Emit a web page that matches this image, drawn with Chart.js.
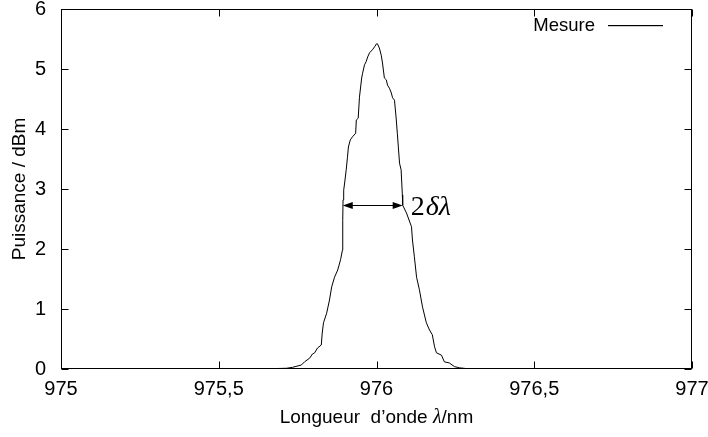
<!DOCTYPE html>
<html>
<head>
<meta charset="utf-8">
<script src="https://cdn.jsdelivr.net/npm/chart.js@4.4.1/dist/chart.umd.min.js"></script>
<style>
  html, body { margin: 0; padding: 0; background: #fff; }
  #wrap { width: 708px; height: 437px; }
</style>
</head>
<body>
<div id="wrap"><canvas id="c" width="708" height="437"></canvas></div>
<script>
// spectre mesuré (longueur d'onde en nm, puissance en dBm)
const WAVELENGTH = [
  975.000, 975.440, 975.598, 975.661, 975.715, 975.734, 975.762, 975.772,
  975.788, 975.797, 975.804, 975.813, 975.825, 975.828, 975.832, 975.842,
  975.851, 975.858, 975.867, 975.877, 975.886, 975.892, 975.893, 975.894,
  975.896, 975.899, 975.904, 975.908, 975.911, 975.917, 975.924, 975.934,
  975.936, 975.942, 975.946, 975.953, 975.956, 975.962, 975.967, 975.972,
  975.978, 975.987, 975.994, 976.000, 976.003, 976.009, 976.015, 976.019,
  976.025, 976.031, 976.035, 976.041, 976.047, 976.051, 976.057, 976.062,
  976.066, 976.073, 976.078, 976.082, 976.083, 976.095, 976.111, 976.114,
  976.120, 976.127, 976.136, 976.146, 976.158, 976.168, 976.177, 976.184,
  976.190, 976.206, 976.215, 976.231, 976.247, 976.263, 976.288, 976.332,
  976.706, 977.000,
];
const POWER = [
  0.000, 0.000, 0.002, 0.005, 0.012, 0.028, 0.067, 0.120,
  0.180, 0.250, 0.270, 0.350, 0.400, 0.600, 0.770, 0.930,
  1.150, 1.370, 1.530, 1.650, 1.820, 1.980, 2.480, 2.820,
  2.980, 3.100, 3.320, 3.530, 3.700, 3.820, 3.870, 3.930,
  4.150, 4.180, 4.530, 4.850, 4.930, 5.070, 5.120, 5.200,
  5.270, 5.320, 5.370, 5.420, 5.420, 5.350, 5.230, 5.100,
  4.850, 4.820, 4.730, 4.680, 4.600, 4.520, 4.480, 4.200,
  3.930, 3.430, 3.320, 2.900, 2.730, 2.600, 2.370, 2.150,
  1.870, 1.530, 1.320, 1.030, 0.770, 0.650, 0.570, 0.370,
  0.270, 0.230, 0.120, 0.100, 0.040, 0.020, 0.005, 0.001,
  0.000, 0.000,
];

const X_TICKS = [975, 975.5, 976, 976.5, 977];
const Y_TICKS = [0, 1, 2, 3, 4, 5, 6];

// flèche de largeur 2δλ
const ARROW_FROM = 975.893;
const ARROW_TO = 976.083;
const ARROW_Y = 2.73;
const SERIES_LABEL = "Mesure";

const points = WAVELENGTH.map((x, i) => ({ x, y: POWER[i] }));

const SANS = "'Liberation Sans', Arial, sans-serif";
const SERIF = "'Liberation Serif', 'Times New Roman', serif";

function noPadding(s) {
  s.paddingTop = 0; s.paddingBottom = 0;
  s.paddingLeft = 0; s.paddingRight = 0;
}

// dessine une suite de morceaux [texte, police] centrée en cx
function drawRuns(ctx, runs, cx, cy) {
  let total = 0;
  runs.forEach(([t, f]) => { ctx.font = f; total += ctx.measureText(t).width; });
  let x = cx - total / 2;
  ctx.textAlign = "left";
  runs.forEach(([t, f]) => {
    ctx.font = f;
    ctx.fillText(t, x, cy);
    x += ctx.measureText(t).width;
  });
}

const gnuplotFrame = {
  id: "gnuplotFrame",
  afterDraw(chart) {
    const { ctx, chartArea: a, scales } = chart;
    const xs = scales.x, ys = scales.y;
    const L = Math.round(a.left) + 0.5, R = Math.round(a.right) - 0.5;
    const T = Math.round(a.top) + 0.5, B = Math.round(a.bottom) - 0.5;
    ctx.save();
    ctx.strokeStyle = "#000";
    ctx.fillStyle = "#000";
    ctx.lineWidth = 1;
    ctx.strokeRect(L, T, R - L, B - T);

    // ticks vers l'intérieur, en miroir
    ctx.beginPath();
    X_TICKS.forEach((v) => {
      const px = Math.round(xs.getPixelForValue(v)) + 0.5;
      ctx.moveTo(px, B); ctx.lineTo(px, B - 7);
      ctx.moveTo(px, T); ctx.lineTo(px, T + 7);
    });
    Y_TICKS.forEach((v) => {
      const py = Math.round(ys.getPixelForValue(v)) + 0.5;
      ctx.moveTo(L, py); ctx.lineTo(L + 7, py);
      ctx.moveTo(R, py); ctx.lineTo(R - 7, py);
    });
    ctx.stroke();

    // flèche
    const x1 = xs.getPixelForValue(ARROW_FROM);
    const x2 = xs.getPixelForValue(ARROW_TO);
    const ay = Math.round(ys.getPixelForValue(ARROW_Y)) + 0.5;
    ctx.beginPath();
    ctx.moveTo(x1 + 2, ay); ctx.lineTo(x2 - 2, ay);
    ctx.stroke();
    [[x1, 1], [x2, -1]].forEach(([x, d]) => {
      ctx.beginPath();
      ctx.moveTo(x, ay);
      ctx.lineTo(x + d * 10, ay - 3.5);
      ctx.lineTo(x + d * 10, ay + 3.5);
      ctx.closePath();
      ctx.fill();
    });
    ctx.textBaseline = "alphabetic";
    ctx.textAlign = "left";
    ctx.font = `28px ${SERIF}`;
    ctx.fillText("2", x2 + 8, ay + 9);
    const w2 = ctx.measureText("2").width;
    ctx.font = `italic 28px ${SERIF}`;
    ctx.fillText("δλ", x2 + 9 + w2, ay + 9);

    // titre de l'axe x
    ctx.textBaseline = "middle";
    drawRuns(ctx, [
      ["Longueur  d’onde ", `19px ${SANS}`],
      ["λ", `italic 20px ${SERIF}`],
      ["/nm", `19px ${SANS}`],
    ], (a.left + a.right) / 2, 418);

    // légende
    ctx.font = `18.5px ${SANS}`;
    ctx.textAlign = "right";
    ctx.fillText(SERIES_LABEL, 595, 26);
    ctx.fillRect(608, 25, 55, 1.2);
    ctx.restore();
  },
};

new Chart(document.getElementById("c"), {
  type: "line",
  data: {
    datasets: [{
      label: SERIES_LABEL,
      data: points,
      borderColor: "#000",
      borderWidth: 1,
      pointRadius: 0,
      tension: 0,
      fill: false,
    }],
  },
  options: {
    responsive: false,
    animation: false,
    layout: { padding: { top: 9, right: 16, left: 0, bottom: 0 } },
    plugins: { legend: { display: false }, tooltip: { enabled: false } },
    scales: {
      x: {
        type: "linear",
        min: 975, max: 977,
        afterFit: (s) => { s.height = 68; noPadding(s); },
        afterBuildTicks: (s) => { s.ticks = X_TICKS.map((v) => ({ value: v })); },
        grid: { display: false, drawTicks: false },
        border: { display: false },
        ticks: {
          color: "#000",
          padding: 8,
          maxRotation: 0,
          font: { family: SANS, size: 20 },
          callback: (v) => String(v).replace(".", ","),
        },
      },
      y: {
        min: 0, max: 6,
        afterFit: (s) => { s.width = 61; noPadding(s); },
        afterBuildTicks: (s) => { s.ticks = Y_TICKS.map((v) => ({ value: v })); },
        grid: { display: false, drawTicks: false },
        border: { display: false },
        ticks: {
          color: "#000",
          padding: 15,
          font: { family: SANS, size: 20 },
        },
        title: {
          display: true,
          text: "Puissance / dBm",
          color: "#000",
          font: { family: SANS, size: 19 },
          padding: { top: 8, bottom: 0 },
        },
      },
    },
  },
  plugins: [gnuplotFrame],
});
</script>
</body>
</html>
